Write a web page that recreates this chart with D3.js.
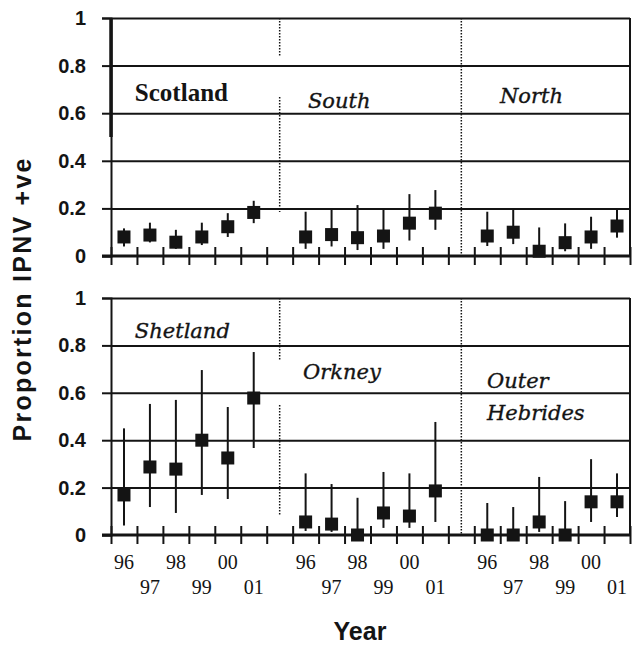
<!DOCTYPE html>
<html>
<head>
<meta charset="utf-8">
<script src="https://cdn.jsdelivr.net/npm/d3@7"></script>
<style>
body { margin: 0; background: #fff; }
</style>
</head>
<body>
<svg id="chart"></svg>
<script>
var years = ["96", "97", "98", "99", "00", "01"];
var yTicks = [0, 0.2, 0.4, 0.6, 0.8, 1];

var topRegions = ["Scotland", "South", "North"];
var bottomRegions = ["Shetland", "Orkney", "Outer Hebrides"];

// proportion IPNV +ve and its lower / upper limits, one per year
var scotlandValue = [0.08, 0.088, 0.058, 0.08, 0.123, 0.183];
var scotlandLow = [0.04, 0.057, 0.03, 0.046, 0.08, 0.138];
var scotlandHigh = [0.116, 0.14, 0.11, 0.14, 0.18, 0.232];

var southValue = [0.08, 0.09, 0.077, 0.084, 0.138, 0.18];
var southLow = [0.03, 0.04, 0.025, 0.03, 0.065, 0.11];
var southHigh = [0.186, 0.196, 0.214, 0.196, 0.26, 0.277];

var northValue = [0.084, 0.1, 0.02, 0.056, 0.08, 0.126];
var northLow = [0.042, 0.05, 0, 0.02, 0.03, 0.077];
var northHigh = [0.186, 0.196, 0.12, 0.137, 0.165, 0.2];

var shetlandValue = [0.169, 0.287, 0.278, 0.4, 0.325, 0.578];
var shetlandLow = [0.04, 0.118, 0.093, 0.169, 0.152, 0.367];
var shetlandHigh = [0.45, 0.553, 0.57, 0.696, 0.54, 0.772];

var orkneyValue = [0.055, 0.046, 0, 0.093, 0.08, 0.186];
var orkneyLow = [0.017, 0.013, 0, 0.03, 0.03, 0.055];
var orkneyHigh = [0.26, 0.215, 0.157, 0.266, 0.26, 0.477];

var hebridesValue = [0, 0, 0.055, 0, 0.14, 0.14];
var hebridesLow = [0, 0, 0.013, 0, 0.055, 0.076];
var hebridesHigh = [0.135, 0.118, 0.245, 0.143, 0.32, 0.26];

var params = {
    width: 635,
    height: 647,
    left: 111,
    right: 630,
    topPanel: [256, 18],
    bottomPanel: [535, 298],
    tickOut: 9,
    boxSize: 13,
    ink: "#141414"
};

var svg = d3.select("#chart")
    .attr("width", params.width)
    .attr("height", params.height)
    .style("font-family", "'Liberation Sans', Arial, sans-serif");

// 3 groups of 6 years with an empty slot between groups
var slots = [];
for (var g = 0; g < 3; ++g) {
    years.forEach(function(yr) { slots.push(g + "-" + yr); });
    if (g < 2) slots.push("gap" + g);
}

var x = d3.scaleBand().domain(slots).range([params.left, params.right]);
var xEdge = d3.scaleLinear().domain([0, slots.length]).range([params.left, params.right]);

function makeSeries(group, value, low, high) {
    return years.map(function(yr, i) {
        return { key: group + "-" + yr, year: yr, v: value[i], lo: low[i], hi: high[i] };
    });
}

function drawLine(g, x1, x2, y1, y2, width, dash) {
    return g.append("line")
        .attr("x1", x1).attr("x2", x2)
        .attr("y1", y1).attr("y2", y2)
        .attr("stroke", params.ink)
        .attr("stroke-width", width)
        .attr("stroke-dasharray", dash || null);
}

function drawPanel(range, series, labels, dividers, thickAxis) {
    var y = d3.scaleLinear().domain([0, 1]).range(range);
    var g = svg.append("g");

    // gridlines
    g.append("g")
        .attr("transform", "translate(" + params.left + ",0)")
        .call(d3.axisLeft(y).tickValues(yTicks.slice(1)).tickSize(-(params.right - params.left)).tickFormat(""))
        .call(function(a) {
            a.select(".domain").remove();
            a.selectAll("line").attr("stroke", params.ink).attr("stroke-width", 2);
        });

    // y axis with short outer ticks and labels
    g.append("g")
        .attr("transform", "translate(" + params.left + ",0)")
        .call(d3.axisLeft(y).tickValues(yTicks).tickSize(params.tickOut).tickPadding(16)
            .tickFormat(function(d) { return d === 0 || d === 1 ? d : d3.format(".1f")(d); }))
        .call(function(a) {
            a.select(".domain").attr("stroke", params.ink).attr("stroke-width", 2);
            a.selectAll("line").attr("stroke", params.ink).attr("stroke-width", 2);
            a.selectAll("text")
                .attr("fill", params.ink)
                .attr("font-size", 20)
                .attr("font-weight", "bold")
                .attr("font-family", "'Liberation Sans', Arial, sans-serif");
        });

    if (thickAxis) {
        drawLine(g, params.left, params.left, y(thickAxis[0]), y(thickAxis[1]), 3.5);
    }

    // right border
    drawLine(g, params.right, params.right, y(0), y(1), 2);

    // x axis, ticks crossing the line
    var edges = d3.range(0, slots.length + 1);
    g.append("g")
        .attr("transform", "translate(0," + y(0) + ")")
        .call(d3.axisBottom(xEdge).tickValues(edges).tickSize(params.tickOut).tickFormat(""))
        .call(function(a) {
            a.select(".domain").remove();
            a.selectAll("line").attr("stroke", params.ink).attr("stroke-width", 2);
        });
    g.append("g")
        .attr("transform", "translate(0," + y(0) + ")")
        .call(d3.axisTop(xEdge).tickValues(edges).tickSize(params.tickOut).tickFormat(""))
        .call(function(a) {
            a.select(".domain").remove();
            a.selectAll("line").attr("stroke", params.ink).attr("stroke-width", 2);
        });
    drawLine(g, params.left - params.tickOut, params.right, y(0), y(0), 3);

    // dotted region dividers
    dividers.forEach(function(d) {
        d.spans.forEach(function(s) {
            drawLine(g, x(d.key) + x.bandwidth() / 2, x(d.key) + x.bandwidth() / 2, y(s[0]), y(s[1]), 1.5, "1.5,1.5");
        });
    });

    // region labels
    labels.forEach(function(l) {
        var t = g.append("text")
            .attr("x", xEdge(l.slot))
            .attr("y", y(l.at))
            .attr("fill", params.ink)
            .attr("stroke", l.bold ? null : params.ink)
            .attr("stroke-width", l.bold ? null : 0.35)
            .attr("font-family", l.bold ? "'Liberation Serif', 'Times New Roman', serif" : "'DejaVu Serif', serif")
            .attr("font-size", l.bold ? 25 : 21)
            .attr("font-weight", l.bold ? "bold" : "normal")
            .attr("font-style", l.bold ? "normal" : "italic");
        l.lines.forEach(function(line, i) {
            t.append("tspan")
                .attr("x", xEdge(l.slot))
                .attr("dy", i === 0 ? 0 : l.lead)
                .text(line);
        });
    });

    // error bars and squares
    series.forEach(function(s) {
        var marks = g.append("g").selectAll("g").data(s).enter().append("g");
        marks.append("line")
            .attr("x1", function(d) { return x(d.key) + x.bandwidth() / 2; })
            .attr("x2", function(d) { return x(d.key) + x.bandwidth() / 2; })
            .attr("y1", function(d) { return y(d.lo); })
            .attr("y2", function(d) { return y(d.hi); })
            .attr("stroke", params.ink)
            .attr("stroke-width", 2);
        marks.append("rect")
            .attr("x", function(d) { return x(d.key) + x.bandwidth() / 2 - params.boxSize / 2; })
            .attr("y", function(d) { return y(d.v) - params.boxSize / 2; })
            .attr("width", params.boxSize)
            .attr("height", params.boxSize)
            .attr("fill", params.ink);
    });
    return y;
}

drawPanel(params.topPanel,
    [makeSeries(0, scotlandValue, scotlandLow, scotlandHigh),
     makeSeries(1, southValue, southLow, southHigh),
     makeSeries(2, northValue, northLow, northHigh)],
    [{ lines: [topRegions[0]], slot: 0.92, at: 0.651, bold: true },
     { lines: [topRegions[1]], slot: 7.59, at: 0.622 },
     { lines: [topRegions[2]], slot: 14.99, at: 0.643 }],
    [{ key: "gap0", spans: [[1, 0.836], [0.668, 0.185]] },
     { key: "gap1", spans: [[1, 0]] }],
    [1, 0.5]);

drawPanel(params.bottomPanel,
    [makeSeries(0, shetlandValue, shetlandLow, shetlandHigh),
     makeSeries(1, orkneyValue, orkneyLow, orkneyHigh),
     makeSeries(2, hebridesValue, hebridesLow, hebridesHigh)],
    [{ lines: [bottomRegions[0]], slot: 0.92, at: 0.831 },
     { lines: [bottomRegions[1]], slot: 7.4, at: 0.658 },
     { lines: bottomRegions[2].split(" "), slot: 14.49, at: 0.62, lead: 32 }],
    [{ key: "gap0", spans: [[1, 0.738], [0.549, 0.084]] },
     { key: "gap1", spans: [[1, 0]] }],
    null);

// year labels, two alternating rows
var yearRow = [569, 594];
svg.append("g").selectAll("text")
    .data(slots.filter(function(s) { return s.indexOf("gap") < 0; }))
    .enter().append("text")
    .attr("x", function(d) { return x(d) + x.bandwidth() / 2; })
    .attr("y", function(d) { return yearRow[years.indexOf(d.split("-")[1]) % 2]; })
    .attr("text-anchor", "middle")
    .attr("font-family", "'Liberation Serif', 'Times New Roman', serif")
    .attr("font-size", 20)
    .attr("fill", params.ink)
    .text(function(d) { return d.split("-")[1]; });

svg.append("text")
    .attr("x", 360)
    .attr("y", 640)
    .attr("text-anchor", "middle")
    .attr("font-size", 25)
    .attr("font-weight", "bold")
    .attr("fill", params.ink)
    .text("Year");

svg.append("text")
    .attr("transform", "translate(31,300) rotate(-90)")
    .attr("text-anchor", "middle")
    .attr("font-size", 25)
    .attr("font-weight", "bold")
    .attr("textLength", 283)
    .attr("lengthAdjust", "spacing")
    .attr("fill", params.ink)
    .text("Proportion IPNV +ve");
</script>
</body>
</html>
